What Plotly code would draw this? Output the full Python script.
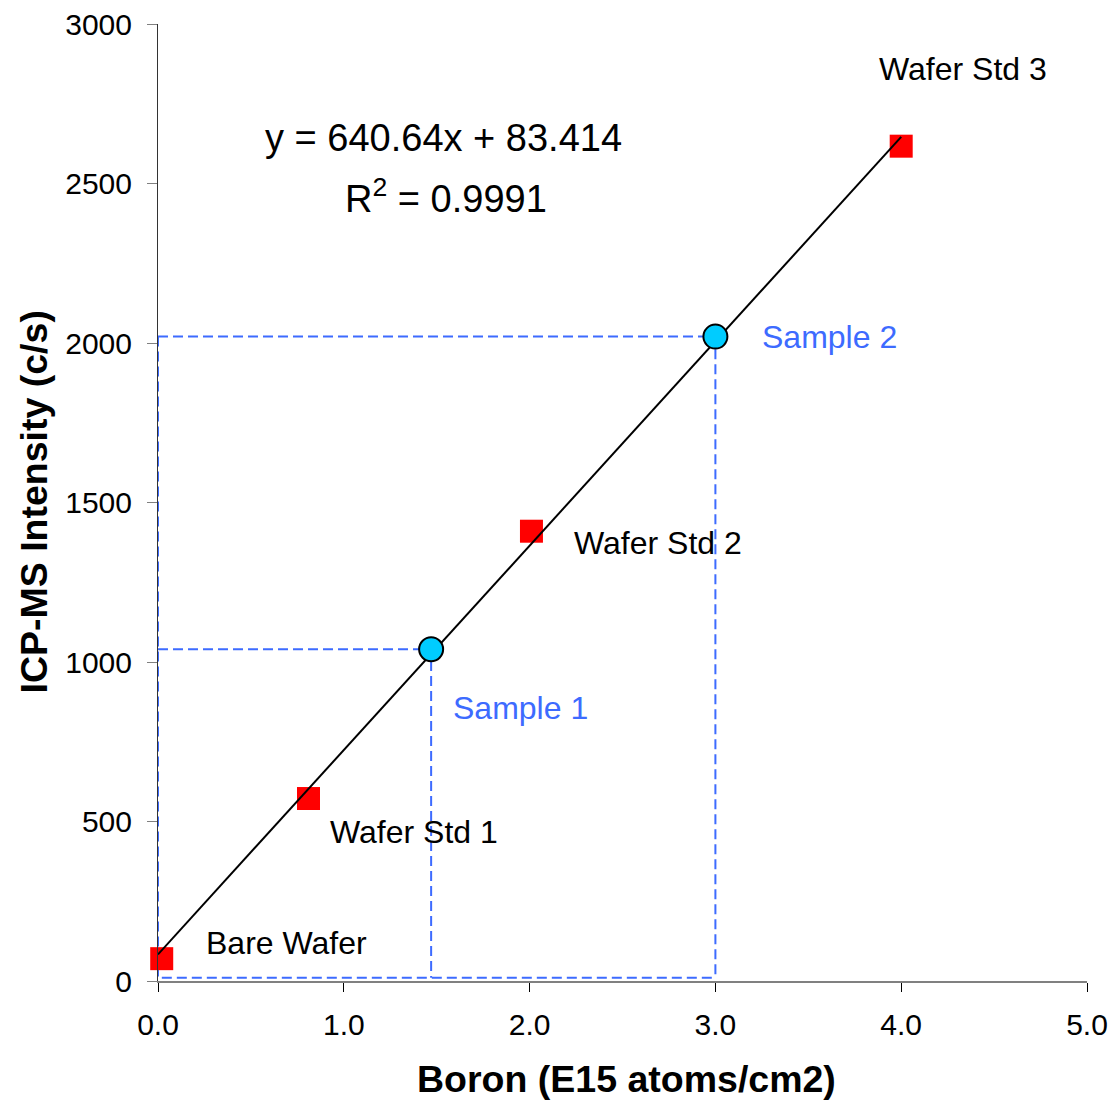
import plotly.graph_objects as go

# ---- data ----
std_names = ["Bare Wafer", "Wafer Std 1", "Wafer Std 2", "Wafer Std 3"]
std_x = [0.02, 0.81, 2.01, 4.0]
std_y = [70, 572, 1410, 2617]

sample_names = ["Sample 1", "Sample 2"]
sample_x = [1.47, 3.0]
sample_y = [1040, 2020]
guide_floor = 10

fit_slope = 640.64
fit_intercept = 83.414
fit_x = [0.0, 4.0]
fit_y = [fit_slope * v + fit_intercept for v in fit_x]

x_ticks = [0, 1, 2, 3, 4, 5]
y_ticks = [0, 500, 1000, 1500, 2000, 2500, 3000]

FONT = "Liberation Sans, Arial, sans-serif"
BLUE = "#3D6BFF"
DASH = dict(color=BLUE, width=2, dash="10px,5px")

fig = go.Figure()

# dashed guides: horizontal + vertical for each sample
for sx, sy in zip(sample_x, sample_y):
    fig.add_trace(go.Scatter(
        x=[0, sx, sx], y=[sy, sy, guide_floor],
        mode="lines", line=DASH, hoverinfo="skip", showlegend=False, cliponaxis=False))
# shared left and bottom guide edges
fig.add_trace(go.Scatter(
    x=[0, 0, max(sample_x)], y=[max(sample_y), guide_floor, guide_floor],
    mode="lines", line=DASH, hoverinfo="skip", showlegend=False, cliponaxis=False))

# standards
fig.add_trace(go.Scatter(
    x=std_x, y=std_y, mode="markers",
    marker=dict(symbol="square", size=23, color="#FF0000", line=dict(width=0)),
    showlegend=False, cliponaxis=False, name="Standards"))

# regression line
fig.add_trace(go.Scatter(
    x=fit_x, y=fit_y, mode="lines", line=dict(color="black", width=2),
    showlegend=False, cliponaxis=False, hoverinfo="skip"))

# samples
fig.add_trace(go.Scatter(
    x=sample_x, y=sample_y, mode="markers",
    marker=dict(symbol="circle", size=24, color="#00CCFF",
                line=dict(color="black", width=2)),
    showlegend=False, cliponaxis=False, name="Samples"))

# point labels
std_label_pos = [(0.25, 118), (0.915, 468), (2.23, 1373), (3.87, 2858)]
for name, (lx, ly) in zip(std_names, std_label_pos):
    fig.add_annotation(x=lx, y=ly, text=name, showarrow=False, xanchor="left",
                       yanchor="middle", font=dict(family=FONT, size=32, color="black"))

sample_label_pos = [(1.575, 855), (3.24, 2020)]
for name, (lx, ly) in zip(sample_names, sample_label_pos):
    fig.add_annotation(x=lx, y=ly, text=name, showarrow=False, xanchor="left",
                       yanchor="middle", font=dict(family=FONT, size=32, color=BLUE))

# equation
fig.add_annotation(x=1.535, y=2644, text="y = %.2fx + %.3f" % (fit_slope, fit_intercept),
                   showarrow=False, xanchor="center", yanchor="middle",
                   font=dict(family=FONT, size=38, color="black"))
fig.add_annotation(x=1.55, y=2460, text="R<sup>2</sup> = 0.9991",
                   showarrow=False, xanchor="center", yanchor="middle",
                   font=dict(family=FONT, size=38, color="black"))

# axis titles
fig.add_annotation(xref="paper", yref="paper", x=0.5, y=0, yshift=-98, xshift=4,
                   text="<b>Boron (E15 atoms/cm2)</b>", showarrow=False,
                   xanchor="center", yanchor="middle",
                   font=dict(family=FONT, size=37.5, color="black"))
fig.add_annotation(xref="paper", yref="paper", x=0, y=0.5, xshift=-125,
                   text="<b>ICP-MS Intensity (c/s)</b>", showarrow=False, textangle=-90,
                   xanchor="center", yanchor="middle",
                   font=dict(family=FONT, size=37.5, color="black"))

fig.update_layout(
    width=1113, height=1103,
    margin=dict(l=158, r=26, t=24, b=122, autoexpand=False),
    paper_bgcolor="white", plot_bgcolor="white",
    font=dict(family=FONT, size=30, color="black"),
    xaxis=dict(range=[0, 5], tickvals=x_ticks, ticktext=["%.1f" % v for v in x_ticks],
               showgrid=False, zeroline=False, showline=True, linecolor="#808080",
               linewidth=2, ticks="outside", ticklen=9, tickwidth=1, tickcolor="black",
               ticklabelstandoff=7, tickfont=dict(family=FONT, size=30), automargin=False),
    yaxis=dict(range=[0, 3000], tickvals=y_ticks, ticktext=[str(v) for v in y_ticks],
               showgrid=False, zeroline=False, showline=True, linecolor="#333333",
               linewidth=1, ticks="outside", ticklen=10, tickwidth=1, tickcolor="#808080",
               ticklabelstandoff=9, tickfont=dict(family=FONT, size=30), automargin=False),
)

fig.write_html("out.html", config={"displayModeBar": False},
               post_script="document.body.style.margin='0';document.body.style.overflow='hidden';")
